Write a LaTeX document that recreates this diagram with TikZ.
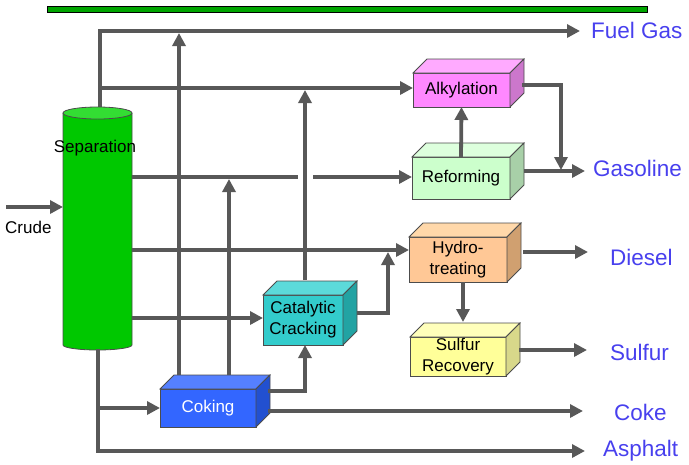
\documentclass[tikz,border=0pt]{standalone}
\usepackage{fontspec}
\setmainfont{Liberation Sans}
\usetikzlibrary{arrows.meta}
\definecolor{linegray}{RGB}{88,88,88}
\definecolor{labelblue}{RGB}{72,64,238}
\definecolor{barg}{RGB}{0,165,0}
\definecolor{sepgreen}{RGB}{0,200,0}
\definecolor{septop}{RGB}{51,221,51}
\definecolor{alkfront}{RGB}{255,136,255}
\definecolor{alktop}{RGB}{255,170,255}
\definecolor{alkside}{RGB}{204,119,204}
\definecolor{reffront}{RGB}{204,255,204}
\definecolor{reftop}{RGB}{221,255,221}
\definecolor{refside}{RGB}{168,208,168}
\definecolor{hydfront}{RGB}{255,200,150}
\definecolor{hydtop}{RGB}{255,216,170}
\definecolor{hydside}{RGB}{208,160,112}
\definecolor{sulfront}{RGB}{255,255,153}
\definecolor{sultop}{RGB}{255,255,187}
\definecolor{sulside}{RGB}{216,216,138}
\definecolor{catfront}{RGB}{51,204,204}
\definecolor{cattop}{RGB}{92,218,218}
\definecolor{catside}{RGB}{34,163,163}
\definecolor{cokfront}{RGB}{51,102,255}
\definecolor{coktop}{RGB}{85,128,255}
\definecolor{cokside}{RGB}{34,80,208}
\newcommand\cubefaces[3]{%
  \filldraw[face, fill=#2] (#1.north west) -- ++(14,-14) -- ([shift={(14,-14)}]#1.north east) -- (#1.north east) -- cycle;
  \filldraw[face, fill=#3] (#1.north east) -- ++(14,-14) -- ([shift={(14,-14)}]#1.south east) -- (#1.south east) -- cycle;}
\begin{document}
\begin{tikzpicture}[x=1pt,y=-1pt,
  flow/.style={line width=3.8pt, draw=linegray},
  arr/.style={flow, -{Triangle[length=13pt,width=13pt]}},
  face/.style={draw=black!70, line width=0.8pt},
  unit/.style={face, inner sep=0pt, outer sep=0pt, align=center, font=\fontsize{17}{21}\selectfont},
  lbl/.style={text=labelblue, font=\fontsize{22.5}{26}\selectfont, anchor=west, inner sep=0pt},
  plain/.style={font=\fontsize{17}{21}\selectfont, inner sep=0pt}]
\useasboundingbox (0,0) rectangle (689,464);
% top bar
\shade[left color=barg, middle color=black, right color=barg] (47,6) rectangle (647,12);
\draw[black, line width=0.6pt] (47,6) rectangle (647,12);
% separation column
\node[minimum width=69, minimum height=232, inner sep=0pt, outer sep=0pt] (sep) at (97.5,229) {};
\fill[sepgreen] (63,113) rectangle (132,345);
\filldraw[face, fill=sepgreen] (63,113) -- (63,345) arc[start angle=180, end angle=0, x radius=34.5, y radius=5] -- (132,113);
\coordinate (sepTop) at (100,110);
\coordinate (fuel) at (580,31);
\draw[arr] (sepTop) |- (fuel);
\filldraw[face, fill=septop] (97.5,113) ellipse [x radius=34.5, y radius=6];
\node[plain] (septxt) at (95,148) {Separation};
% crude
\coordinate (crudein) at (6,207);
\draw[arr] (crudein) -- (sep.west |- crudein);
\node[plain, anchor=west] (crude) at (5,227) {Crude};
% units
\node[unit, fill=alkfront, minimum width=97, minimum height=34] (alk) at (461.5,90) {Alkylation};
\cubefaces{alk}{alktop}{alkside}
\node[unit, fill=reffront, minimum width=98, minimum height=42] (ref) at (461,178) {Reforming};
\cubefaces{ref}{reftop}{refside}
\node[unit, fill=hydfront, minimum width=98, minimum height=45] (hyd) at (458,259.5) {Hydro-\\treating};
\cubefaces{hyd}{hydtop}{hydside}
\node[unit, fill=sulfront, minimum width=96, minimum height=39] (sul) at (458,356.5) {Sulfur\\Recovery};
\cubefaces{sul}{sultop}{sulside}
\node[unit, fill=catfront, minimum width=80, minimum height=50] (cat) at (303,320) {Catalytic\\Cracking};
\cubefaces{cat}{cattop}{catside}
\node[unit, fill=cokfront, text=white, minimum width=96, minimum height=38] (cok) at (208,408) {Coking};
\cubefaces{cok}{coktop}{cokside}
% feeds from separation
\coordinate (jAlk) at (100,88);
\draw[arr] (jAlk) -- (alk.west |- jAlk);
\coordinate (jRef) at (132,177);
\draw[arr] (jRef) -- (ref.west |- jRef);
\draw[white, line width=6pt] (298,177) -- (313,177);
\coordinate (jHyd) at (132,250);
\draw[arr] (jHyd) -- (hyd.west |- jHyd);
\coordinate (jCat) at (132,318);
\draw[arr] (jCat) -- (cat.west |- jCat);
\coordinate (sepBot) at (98,349);
\coordinate (asph) at (585,451);
\draw[arr] (sepBot) |- (asph);
\coordinate (jCok) at (98,408);
\draw[arr] (jCok) -- (cok.west |- jCok);
% coking outputs
\coordinate (cokA) at (179,375);
\coordinate (cokAend) at (179,33);
\draw[arr] (cokA) -- (cokAend);
\coordinate (cokB) at (229,375);
\coordinate (cokBend) at (229,179);
\draw[arr] (cokB) -- (cokBend);
\coordinate (cokC) at (268,391);
\coordinate (catBot) at (305,345);
\draw[arr] (cokC) -| (catBot);
\coordinate (cokD) at (268,411);
\coordinate (coke) at (583,411);
\draw[arr] (cokD) -- (coke);
% catalytic outputs
\coordinate (catA) at (305,280);
\coordinate (catAend) at (305,90);
\draw[arr] (catA) -- (catAend);
\coordinate (catB) at (357,313);
\coordinate (catBend) at (388,252);
\draw[arr] (catB) -| (catBend);
% reforming / alkylation
\draw[arr] (ref.north) -- (alk.south);
\coordinate (alkOut) at (522,85);
\coordinate (gasJ) at (561,170);
\draw[arr] (alkOut) -| (gasJ);
\coordinate (refOut) at (524,171);
\coordinate (gas) at (585,171);
\draw[arr] (refOut) -- (gas);
% hydrotreating
\coordinate (hydOut) at (523,252);
\coordinate (diesel) at (588,252);
\draw[arr] (hydOut) -- (diesel);
\coordinate (hydDown) at (463,282);
\coordinate (sulTop) at (463,322);
\draw[arr] (hydDown) -- (sulTop);
\coordinate (sulOut) at (519,350);
\coordinate (sulfur) at (587,350);
\draw[arr] (sulOut) -- (sulfur);
% product labels
\node[lbl] (lfuel) at (591,30) {Fuel Gas};
\node[lbl] (lgas) at (593,168) {Gasoline};
\node[lbl] (ldiesel) at (610,257) {Diesel};
\node[lbl] (lsulfur) at (610,352) {Sulfur};
\node[lbl] (lcoke) at (614,412) {Coke};
\node[lbl] (lasph) at (603,451) {Asphalt};
\end{tikzpicture}
\end{document}
